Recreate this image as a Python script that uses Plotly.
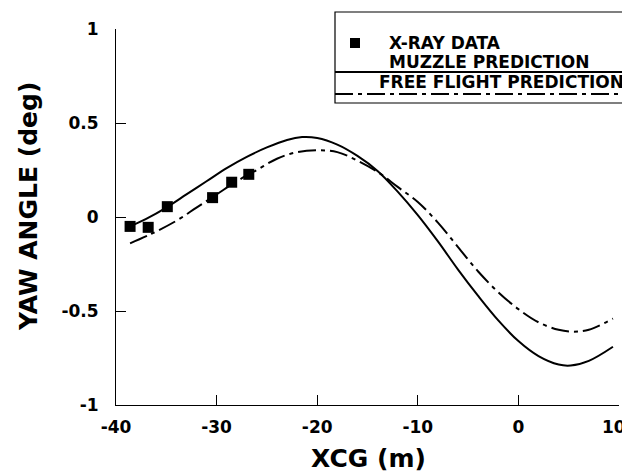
import plotly.graph_objects as go

# X-ray data
xray_x = [-38.6, -36.8, -34.9, -30.4, -28.5, -26.8]
xray_y = [-0.05, -0.055, 0.055, 0.103, 0.185, 0.227]

# Muzzle prediction (solid)
muzzle_x = [-38.6, -37, -35, -33, -31, -29, -27, -25, -23, -21.5, -20, -18, -16, -14, -12, -10,
            -8, -6, -4, -2, 0, 2, 4, 5.2, 7, 9.4]
muzzle_y = [-0.05, -0.01, 0.05, 0.12, 0.19, 0.26, 0.32, 0.37, 0.41, 0.425, 0.42, 0.385, 0.325, 0.245,
            0.135, 0.01, -0.13, -0.28, -0.42, -0.55, -0.66, -0.74, -0.785, -0.79, -0.765, -0.69]

# Free flight prediction (dash-dot)
free_x = [-38.6, -36.5, -34, -32, -30, -28, -26, -24, -22, -20, -18, -16, -14, -12, -10, -8,
          -6, -4, -2, 0, 2, 4, 5.5, 7, 9.4]
free_y = [-0.14, -0.09, -0.02, 0.05, 0.12, 0.19, 0.25, 0.31, 0.345, 0.355, 0.345, 0.30, 0.24,
          0.16, 0.08, -0.03, -0.16, -0.29, -0.40, -0.49, -0.56, -0.60, -0.61, -0.60, -0.54]

x_ticks = [-40, -30, -20, -10, 0, 10]
x_ticklabels = ["-40", "-30", "-20", "-10", "0", "10"]
y_ticks = [-1, -0.5, 0, 0.5, 1]
y_ticklabels = ["-1", "-0.5", "0", "0.5", "1"]

legend_labels = ["X-RAY DATA", "MUZZLE PREDICTION", "FREE FLIGHT PREDICTION"]

FONT = "DejaVu Sans"
DASHDOT = "18px,5px,4px,5px"

fig = go.Figure()
fig.add_trace(go.Scatter(x=muzzle_x, y=muzzle_y, mode="lines",
                         line=dict(color="black", width=2, shape="spline"), showlegend=False))
fig.add_trace(go.Scatter(x=free_x, y=free_y, mode="lines",
                         line=dict(color="black", width=2, shape="spline", dash=DASHDOT),
                         showlegend=False))
fig.add_trace(go.Scatter(x=xray_x, y=xray_y, mode="markers",
                         marker=dict(symbol="square", size=11, color="black"), showlegend=False))

# page body has an 8px margin; the figure is sized so it fills the 630x472 window
OFF = 8
W, H = 630 - OFF, 472 - OFF
L, R, T, B = 116 - OFF, 630 - 619, 29 - OFF, 472 - 405
pw, ph = W - L - R, H - T - B


def px(xref):
    return (xref - OFF - L) / pw


def py(yref):
    return (H - B - (yref - OFF)) / ph


shapes = [
    dict(type="rect", xref="paper", yref="paper", x0=px(335), x1=px(629), y0=py(103), y1=py(12),
         line=dict(color="black", width=1.2)),
    dict(type="line", xref="paper", yref="paper", x0=px(335), x1=px(629), y0=py(72), y1=py(72),
         line=dict(color="black", width=2)),
    dict(type="line", xref="paper", yref="paper", x0=px(335), x1=px(629), y0=py(94), y1=py(94),
         line=dict(color="black", width=2, dash=DASHDOT)),
    dict(type="rect", xref="paper", yref="paper", x0=px(350), x1=px(360), y0=py(48), y1=py(38),
         fillcolor="black", line=dict(width=0)),
]

tfont = dict(family=FONT, size=17, color="black", weight="bold")
lfont = dict(family=FONT, size=17, color="black", weight="bold")
annotations = [
    dict(text=legend_labels[0], x=px(387), y=py(43), xref="paper", yref="paper", xanchor="left",
         yanchor="middle", showarrow=False, font=lfont),
    dict(text=legend_labels[1], x=px(387), y=py(62), xref="paper", yref="paper", xanchor="left",
         yanchor="middle", showarrow=False, font=lfont),
    dict(text=legend_labels[2], x=px(377), y=py(82), xref="paper", yref="paper", xanchor="left",
         yanchor="middle", showarrow=False, font=lfont),
    # last x tick label, nudged inside the page edge
    dict(text=x_ticklabels[-1], x=px(628), y=py(427), xref="paper", yref="paper", xanchor="right",
         yanchor="middle", showarrow=False, font=tfont),
    # axis titles
    dict(text="XCG (m)", x=px(368), y=py(458), xref="paper", yref="paper", xanchor="center",
         yanchor="middle", showarrow=False,
         font=dict(family=FONT, size=25, color="black", weight="bold")),
    dict(text="YAW ANGLE (deg)", x=px(28), y=py(207), xref="paper", yref="paper", xanchor="center",
         yanchor="middle", showarrow=False, textangle=-90,
         font=dict(family=FONT, size=25, color="black", weight="bold")),
]

fig.update_layout(
    width=W, height=H,
    margin=dict(l=L, r=R, t=T, b=B, pad=0, autoexpand=False),
    paper_bgcolor="white", plot_bgcolor="white",
    showlegend=False,
    shapes=shapes,
    annotations=annotations,
    xaxis=dict(range=[-40, 10], tickvals=x_ticks, ticktext=x_ticklabels[:-1] + [""], ticks="inside",
               ticklen=10, tickcolor="black", showline=True, linecolor="black", linewidth=1,
               showgrid=False, zeroline=False, automargin=False, ticklabelstandoff=7,
               ticklabeloverflow="allow", tickfont=tfont),
    yaxis=dict(range=[-1, 1], tickvals=y_ticks, ticktext=y_ticklabels, ticks="inside", ticklen=10,
               tickcolor="black", showline=True, linecolor="black", linewidth=1, showgrid=False,
               zeroline=False, ticklabelstandoff=13, automargin=False, ticklabeloverflow="allow",
               tickfont=tfont),
)

fig.write_html("out.html")
